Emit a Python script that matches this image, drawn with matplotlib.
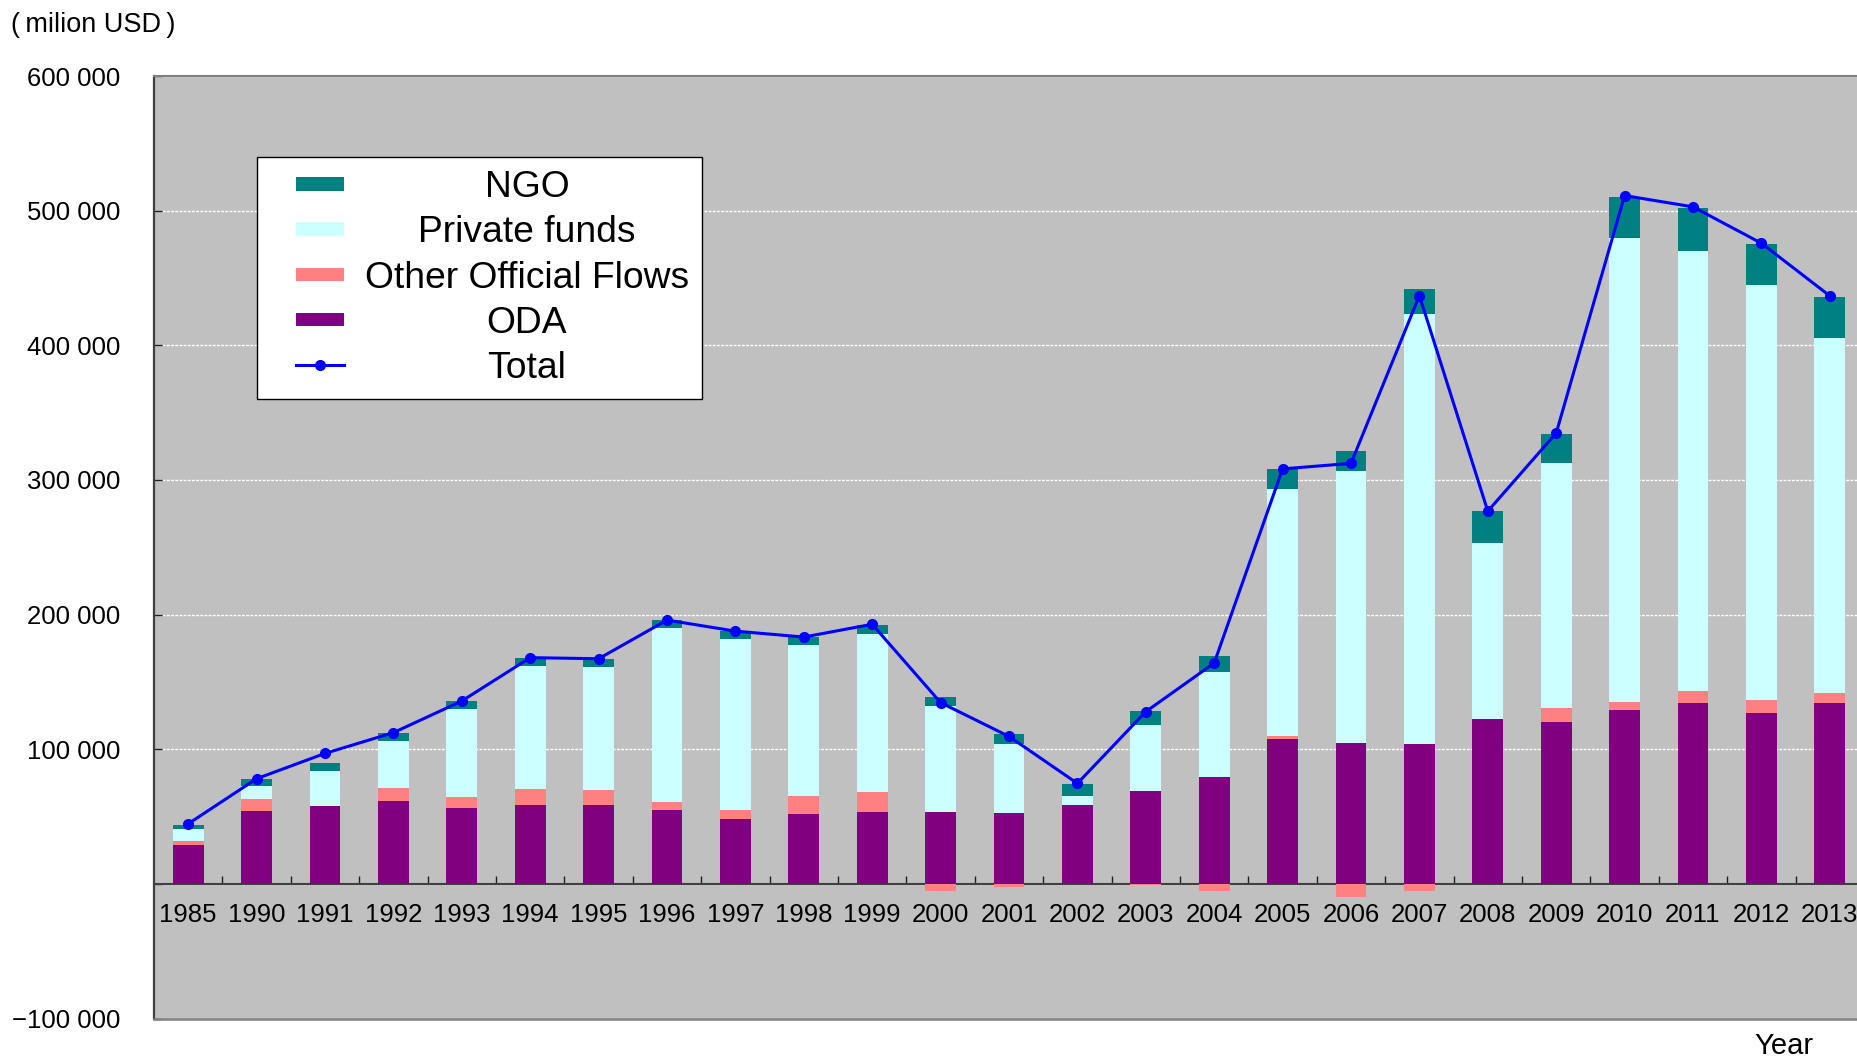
import numpy as np
import matplotlib
matplotlib.use("Agg")
import matplotlib.pyplot as plt
from matplotlib.patches import Rectangle
from matplotlib.lines import Line2D
from matplotlib.legend_handler import HandlerBase
from matplotlib.transforms import Affine2D
from matplotlib.ticker import FixedLocator

# ---------------- data (million USD) ----------------
years = ['1985', '1990', '1991', '1992', '1993', '1994', '1995', '1996', '1997',
         '1998', '1999', '2000', '2001', '2002', '2003', '2004', '2005', '2006',
         '2007', '2008', '2009', '2010', '2011', '2012', '2013']

oda = [28500, 54000, 57700, 61900, 56000, 58400, 58400, 55200, 48300, 52000,
       53200, 53700, 52500, 58200, 69100, 79600, 107500, 104500, 103800, 122400,
       119900, 128800, 134300, 126600, 134000]
oof = [3000, 8700, 0, 9200, 8400, 11900, 11000, 5800, 6200, 12900,
       15200, -5000, -2000, 0, -500, -5500, 2200, -9900, -5500, 0,
       10700, 6000, 8700, 10200, 7500]
private = [9400, 10200, 26300, 34900, 65700, 91300, 91600, 129000, 127400, 112500,
           117200, 78100, 51600, 6900, 48800, 77700, 183200, 202300, 319500, 130400,
           181900, 345000, 327300, 308000, 263700]
ngo = [3000, 5200, 5700, 6000, 5700, 5900, 6000, 5800, 5700, 5900,
       7000, 7200, 6900, 9000, 10200, 11700, 14900, 14800, 18300, 23800,
       21800, 30700, 32000, 30300, 30900]
total = [44600, 78100, 96900, 112300, 135800, 168000, 167200, 195900, 187700, 183300,
         192800, 134600, 109500, 74600, 127900, 164000, 308200, 312300, 436900, 276800,
         334800, 511200, 502800, 475800, 436700]

series_labels = ['NGO', 'Private funds', 'Other Official Flows', 'ODA', 'Total']
ytick_values = [-100000, 0, 100000, 200000, 300000, 400000, 500000, 600000]
ytick_labels = ['\u2212100 000', '', '100 000', '200 000', '300 000', '400 000', '500 000', '600 000']

# ---------------- style ----------------
C_NGO = '#008080'
C_PRIV = '#CCFFFF'
C_OOF = '#FF8080'
C_ODA = '#800080'
C_TOT = '#0000FF'
FONT = ['Liberation Sans', 'Noto Sans CJK JP', 'DejaVu Sans']
plt.rcParams['font.family'] = FONT

W, H, DPI = 1858, 1059, 100
fig = plt.figure(figsize=(W / DPI, H / DPI), dpi=DPI)
ax_left, ax_right, ax_top, ax_bot = 154, 1864, 76, 1018.5
ax = fig.add_axes([ax_left / W, 1 - ax_bot / H, (ax_right - ax_left) / W, (ax_bot - ax_top) / H])
ax.set_facecolor('#C0C0C0')

x = np.arange(len(years))
oda_a = np.array(oda, float)
oof_a = np.array(oof, float)
priv_a = np.array(private, float)
ngo_a = np.array(ngo, float)

bw = 0.45
oof_bottom = np.where(oof_a > 0, oda_a, 0.0)
priv_bottom = oda_a + np.clip(oof_a, 0, None)
ngo_bottom = priv_bottom + priv_a

b_oda = ax.bar(x, oda_a, bw, color=C_ODA, zorder=3, edgecolor='none')
b_oof = ax.bar(x, oof_a, bw, bottom=oof_bottom, color=C_OOF, zorder=3, edgecolor='none')
b_priv = ax.bar(x, priv_a, bw, bottom=priv_bottom, color=C_PRIV, zorder=3, edgecolor='none')
b_ngo = ax.bar(x, ngo_a, bw, bottom=ngo_bottom, color=C_NGO, zorder=3, edgecolor='none')
ln_tot, = ax.plot(x, total, color=C_TOT, lw=2.2, marker='o', ms=7, zorder=5)

ax.set_xlim(-0.5, len(years) - 0.5)
ax.set_ylim(-100000, 600000)

# y axis
ax.set_yticks(ytick_values)
ax.set_yticklabels(ytick_labels, fontsize=18.5)
ax.tick_params(axis='y', direction='in', length=6, width=1, color='#202020', pad=24)
ax.yaxis.grid(True, color='white', linestyle=(0, (2, 1)), lw=1)
ax.set_axisbelow(True)

# x axis at zero
ax.spines['bottom'].set_position(('data', 0))
ax.spines['bottom'].set_color('#404040')
ax.spines['bottom'].set_linewidth(1.5)
ax.xaxis.set_major_locator(FixedLocator(x[:-1] + 0.5))
ax.xaxis.set_major_formatter(plt.NullFormatter())
ax.xaxis.set_minor_locator(FixedLocator(x))
ax.set_xticklabels(years, minor=True, fontsize=18.5)
ax.tick_params(axis='x', which='major', direction='in', length=5.5, width=1, color='#202020')
ax.tick_params(axis='x', which='minor', length=0, pad=13.5)

ax.spines['left'].set_color('#404040')
ax.spines['left'].set_linewidth(1.6)
ax.spines['top'].set_color('#808080')
ax.spines['top'].set_linewidth(1.5)
ax.spines['right'].set_visible(False)
ax.axhline(-100000, color='#808080', lw=1.8, clip_on=False, zorder=6)

# texts
fig.text(11 / W, 1 - 25 / H, '(\u2009milion USD\u2009)', fontsize=19.5, va='center', ha='left')
fig.text(1754 / W, 1 - 1046 / H, 'Year', fontsize=21, va='center', ha='left')


# ---------------- legend ----------------
class HandlerBlock(HandlerBase):
    def __init__(self, f0, f1, hpt):
        super().__init__()
        self.f0, self.f1, self.hpt = f0, f1, hpt

    def create_artists(self, legend, orig_handle, xdescent, ydescent, width, height, fontsize, trans):
        color = orig_handle[0].get_facecolor()
        r = Rectangle((-xdescent + self.f0 * width, -ydescent + (height - self.hpt) / 2),
                      (self.f1 - self.f0) * width, self.hpt, facecolor=color, edgecolor='none',
                      transform=trans)
        return [r]


class HandlerTotal(HandlerBase):
    def __init__(self, f0, f1):
        super().__init__()
        self.f0, self.f1 = f0, f1

    def create_artists(self, legend, orig_handle, xdescent, ydescent, width, height, fontsize, trans):
        y = -ydescent + height / 2
        xa = -xdescent + self.f0 * width
        xb = -xdescent + self.f1 * width
        l1 = Line2D([xa, xb], [y, y], color=orig_handle.get_color(), lw=orig_handle.get_linewidth(),
                    transform=trans)
        m = Line2D([(xa + xb) / 2], [y], color=orig_handle.get_color(), marker='o', ms=7,
                   lw=0, transform=trans)
        return [l1, m]


f0, f1 = 0.30, 0.87
hmap = {b_ngo: HandlerBlock(f0, f1, 10), b_priv: HandlerBlock(f0, f1, 10),
        b_oof: HandlerBlock(f0, f1, 10), b_oda: HandlerBlock(f0, f1, 10),
        ln_tot: HandlerTotal(f0, f1)}
leg_x = (257 - ax_left) / (ax_right - ax_left)
leg_y = 1 - (157 - ax_top) / (ax_bot - ax_top)
leg = ax.legend([b_ngo, b_priv, b_oof, b_oda, ln_tot], series_labels, handler_map=hmap,
                loc='upper left', bbox_to_anchor=(leg_x, leg_y), borderaxespad=0,
                fontsize=26.8, handlelength=2.27, handletextpad=0.27, borderpad=0.36,
                labelspacing=0.27, fancybox=False, framealpha=1, edgecolor='black',
                facecolor='white')
leg.get_frame().set_linewidth(1.0)
leg.set_zorder(10)

# center legend labels within their column
fig.canvas.draw()
rend = fig.canvas.get_renderer()
widths = [t.get_window_extent(rend).width for t in leg.get_texts()]
mw = max(widths)
for t, w in zip(leg.get_texts(), widths):
    t.set_transform(t.get_transform() + Affine2D().translate((mw - w) / 2, 0))

fig.savefig('out.png', dpi=DPI, facecolor='white')
